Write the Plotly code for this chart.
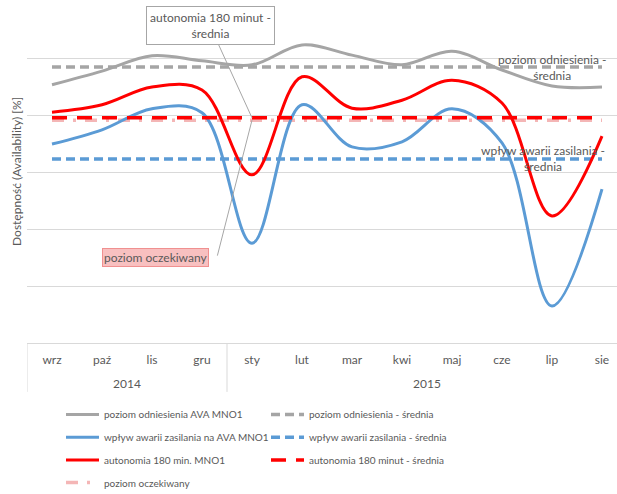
import plotly.graph_objects as go

months = ["wrz", "paź", "lis", "gru", "sty", "lut", "mar", "kwi", "maj", "cze", "lip", "sie"]
years = ["2014"] * 4 + ["2015"] * 8

ref_ava = [4.53, 4.77, 5.04, 4.95, 4.88, 5.23, 5.05, 4.88, 5.12, 4.79, 4.51, 4.49]
power_ava = [3.49, 3.74, 4.11, 4.04, 1.75, 4.18, 3.44, 3.53, 4.11, 3.51, 0.65, 2.70]
auto180 = [4.05, 4.18, 4.49, 4.44, 2.95, 4.67, 4.12, 4.26, 4.61, 4.21, 2.23, 3.63]

ref_mean = 4.84
power_mean = 3.23
auto_mean = 3.95
expected = 3.91

GRAY = "#A5A5A5"
BLUE = "#5B9BD5"
RED = "#FF0000"
PINK = "#F4B6B6"
TXT = "#595959"
GRID = "#D9D9D9"
FONT = "Lato"

n = len(months)

fig = go.Figure()

def add(name, y, color, dash, width, rank, legend, spline=True):
    fig.add_trace(go.Scatter(
        x=months, y=y, name=name, mode="lines", legendrank=rank, legend=legend,
        legendgroup=name,
        line=dict(color=color, dash=dash, width=width,
                  shape="spline" if spline else "linear", smoothing=1.0),
    ))

add("poziom oczekiwany", [expected] * n, PINK, "12px,9px,3px,9px", 3.5, 4, "legend", False)
add("poziom odniesienia - średnia", [ref_mean] * n, GRAY, "9px,5px", 3.5, 1, "legend2", False)
add("wpływ awarii zasilania - średnia", [power_mean] * n, BLUE, "9px,5px", 3.5, 2, "legend2", False)
add("poziom odniesienia AVA MNO1", ref_ava, GRAY, "solid", 3, 1, "legend")
add("wpływ awarii zasilania na AVA MNO1", power_ava, BLUE, "solid", 3, 2, "legend")
add("autonomia 180 min. MNO1", auto180, RED, "solid", 3, 3, "legend")
add("autonomia 180 minut - średnia", [auto_mean] * n, RED, "15px,10px", 3.5, 3, "legend2", False)

leg_common = dict(orientation="v", xanchor="left", yanchor="top",
                  xref="container", yref="container",
                  itemwidth=33, font=dict(size=10, color=TXT),
                  tracegroupgap=3.7, bgcolor="rgba(0,0,0,0)")

fig.update_layout(
    width=617, height=494,
    margin=dict(l=27, r=0, t=1, b=151, autoexpand=False),
    paper_bgcolor="white", plot_bgcolor="white",
    font=dict(family=FONT, size=12, color=TXT),
    showlegend=True,
    legend=dict(x=61 / 617, y=1 - 400 / 494, **leg_common),
    legend2=dict(x=266 / 617, y=1 - 400 / 494, **leg_common),
    xaxis=dict(type="category", showline=True, linecolor=GRID,
               range=[-0.5, 11.3], automargin=False, ticklabelstandoff=6,
               tickfont=dict(size=12, color=TXT), showgrid=False, ticks=""),
    yaxis=dict(range=[0, 6], dtick=1, showticklabels=False, gridcolor=GRID,
               gridwidth=1, zeroline=False, showline=False, automargin=False),
)

# y-axis title
fig.add_annotation(xref="paper", yref="paper", x=-0.017, y=0.503, textangle=-90,
                   xanchor="center", yanchor="middle",
                   text="Dostępność (Availability) [%]", showarrow=False,
                   font=dict(size=12, color=TXT))

# year group labels and dividers
groups = []
for i, yv in enumerate(years):
    if not groups or groups[-1][0] != yv:
        groups.append([yv, i, i])
    else:
        groups[-1][2] = i
for yv, i0, i1 in groups:
    fig.add_annotation(xref="x", yref="paper", x=(i0 + i1) / 2, y=-0.117,
                       text=yv, showarrow=False, yanchor="middle",
                       font=dict(size=12, color=TXT))
    fig.add_shape(type="line", xref="x", yref="paper", x0=i0 - 0.5, x1=i0 - 0.5,
                  y0=0, y1=-0.143, line=dict(color=GRID, width=1))

fig.add_annotation(x=4, y=auto_mean, xref="x", yref="y",
                   text="autonomia 180 minut -<br>średnia", showarrow=True,
                   ax=-42, ay=-92, arrowhead=0, arrowwidth=1, arrowcolor="#A6A6A6",
                   bgcolor="white", bordercolor="#A6A6A6", borderwidth=1, borderpad=3,
                   font=dict(size=12, color=TXT))
fig.add_annotation(x=4, y=expected, xref="x", yref="y", text="", showarrow=True,
                   ax=-35, ay=137, arrowhead=0, arrowwidth=1, arrowcolor="#A6A6A6")
fig.add_annotation(x=4, y=expected, xref="x", yref="y",
                   text="poziom oczekiwany", showarrow=False,
                   xshift=-97, yshift=-137,
                   bgcolor="#F8C0C0", bordercolor="#F09090", borderwidth=1, borderpad=1,
                   font=dict(size=12, color=TXT))
fig.add_annotation(x=10, y=ref_mean, xref="x", yref="y",
                   text="poziom odniesienia -<br>średnia", showarrow=False,
                   font=dict(size=12, color=TXT))
fig.add_annotation(x=10, y=power_mean, xref="x", yref="y", xshift=-9,
                   text="wpływ awarii zasilania -<br>średnia", showarrow=False,
                   font=dict(size=12, color=TXT))

fig.write_html("out.html", post_script="document.body.style.margin='0';",
               config={"displayModeBar": False})
